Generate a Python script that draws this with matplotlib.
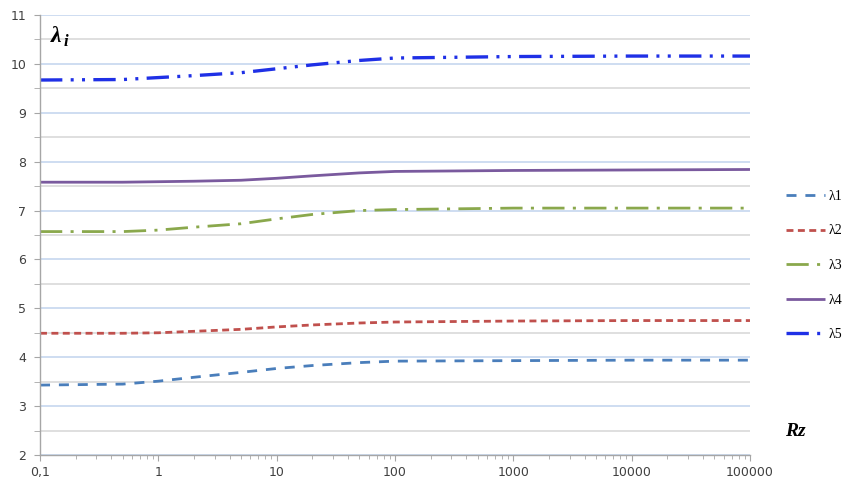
import matplotlib.pyplot as plt
from matplotlib.ticker import MultipleLocator, LogLocator, NullFormatter

# Eigenvalues lambda_1..lambda_5 versus Rz (log scale)
rz = [0.1, 0.5, 1, 2, 5, 10, 20, 50, 100, 1000, 10000, 100000]
lam1 = [3.43, 3.45, 3.51, 3.59, 3.69, 3.77, 3.83, 3.89, 3.92, 3.93, 3.94, 3.94]
lam2 = [4.49, 4.49, 4.50, 4.53, 4.57, 4.62, 4.66, 4.70, 4.72, 4.74, 4.75, 4.75]
lam3 = [6.57, 6.57, 6.60, 6.66, 6.73, 6.83, 6.92, 7.00, 7.02, 7.05, 7.05, 7.05]
lam4 = [7.58, 7.58, 7.59, 7.60, 7.62, 7.66, 7.71, 7.77, 7.80, 7.82, 7.83, 7.84]
lam5 = [9.67, 9.68, 9.72, 9.76, 9.82, 9.90, 9.98, 10.07, 10.12, 10.15, 10.16, 10.16]

series_labels = ["λ1", "λ2", "λ3", "λ4", "λ5"]
x_ticks = [0.1, 1, 10, 100, 1000, 10000, 100000]
x_tick_labels = ["0,1", "1", "10", "100", "1000", "10000", "100000"]


def main() -> None:
    fig = plt.figure(figsize=(8.46, 4.79), dpi=100)
    ax = fig.add_axes([0.0473, 0.0501, 0.8392, 0.9186])

    styles = [
        dict(color="#4a7ebb", lw=2.0, dashes=(3.6, 3.2)),
        dict(color="#c0504d", lw=2.0, dashes=(2.5, 1.6)),
        dict(color="#8aa84c", lw=2.0, dashes=(8.0, 3.0, 1.1, 3.0)),
        dict(color="#7a5a9e", lw=2.0),
        dict(color="#1f30e6", lw=2.4, dashes=(6.7, 2.5, 0.9, 2.5, 0.9, 2.5)),
    ]
    for y, label, st in zip([lam1, lam2, lam3, lam4, lam5], series_labels, styles):
        ax.plot(rz, y, label=label, solid_capstyle="butt", dash_capstyle="butt", **st)

    ax.set_xscale("log")
    ax.set_xlim(0.1, 100000)
    ax.set_ylim(2, 11)

    # x axis: decades with 2..9 minor ticks, comma decimal label
    ax.set_xticks(x_ticks)
    ax.set_xticklabels(x_tick_labels)
    ax.xaxis.set_minor_locator(LogLocator(base=10, subs=range(2, 10)))
    ax.xaxis.set_minor_formatter(NullFormatter())

    # y axis: integer gridlines blue, half-step gridlines gray
    ax.yaxis.set_major_locator(MultipleLocator(1))
    ax.yaxis.set_minor_locator(MultipleLocator(0.5))
    ax.grid(True, axis="y", which="major", color="#c6d7ef", lw=1.2)
    ax.grid(True, axis="y", which="minor", color="#d9d9d9", lw=1.2)
    ax.set_axisbelow(True)

    for side in ["top", "right"]:
        ax.spines[side].set_visible(False)
    for side in ["left", "bottom"]:
        ax.spines[side].set_color("#a6a6a6")
        ax.spines[side].set_linewidth(1.0)

    ax.tick_params(axis="both", which="both", direction="out", color="#a6a6a6",
                   labelcolor="#404040", labelsize=9)
    ax.tick_params(axis="y", which="both", length=4, pad=6)
    ax.tick_params(axis="x", which="major", length=4, pad=4)
    ax.tick_params(axis="x", which="minor", length=3)

    # axis titles drawn inside the figure
    fig.text(51 / 846, 1 - 36 / 479, "λ", family="Liberation Serif",
             style="italic", weight="bold", fontsize=17, va="center")
    fig.text(64 / 846, 1 - 42 / 479, "i", family="Liberation Serif",
             style="italic", weight="bold", fontsize=12, va="center")
    fig.text(795 / 846, 1 - 432 / 479, "Rz", family="Liberation Serif",
             style="italic", weight="bold", fontsize=14, ha="center", va="center")

    fig.legend(loc="upper left", bbox_to_anchor=(779 / 846, 1 - 183 / 479),
               bbox_transform=fig.transFigure, frameon=False,
               prop={"family": "Liberation Serif", "size": 10},
               handlelength=2.8, handletextpad=0.25, labelspacing=1.55, borderpad=0)

    fig.savefig("out.png", dpi=100)


if __name__ == "__main__":
    main()
